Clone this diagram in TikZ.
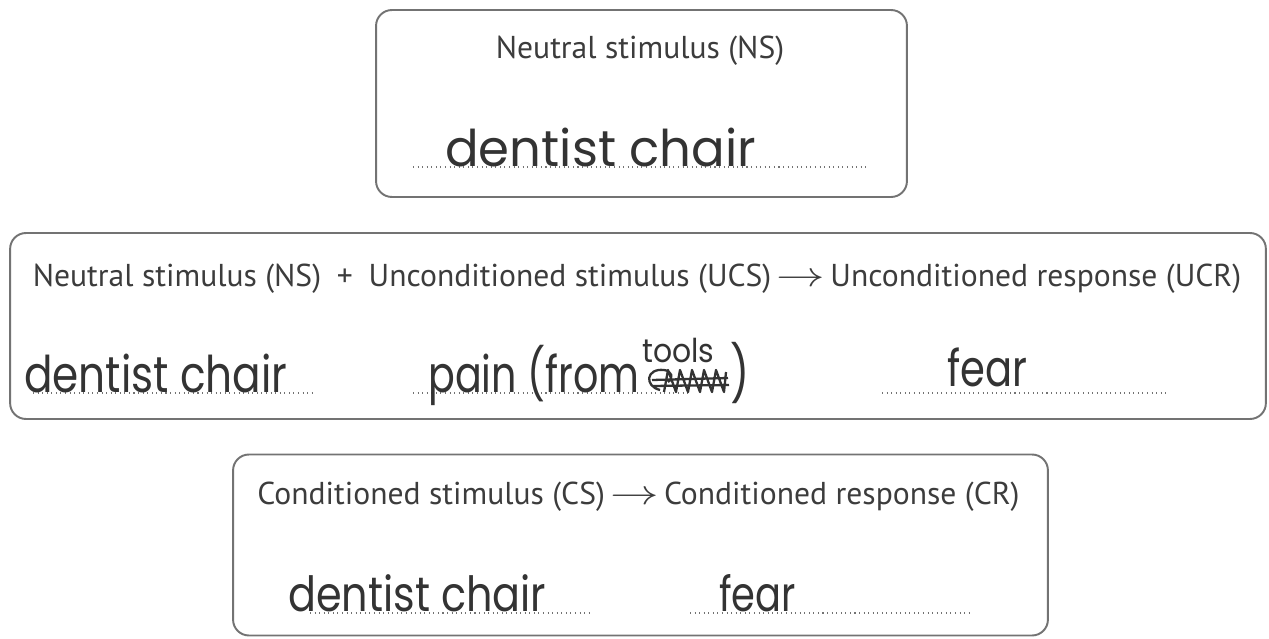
\documentclass[tikz,border=0pt]{standalone}
\usepackage{graphicx}
\usepackage{fontspec}
\setmainfont{PT Sans}
\newfontfamily\hand{Poppins}
\newcommand{\handtxt}[3]{\scalebox{#1}[#2]{#3}}
\newcommand{\bigarrow}{\,\scalebox{1.6}[1.15]{$\rightarrow$}\,}
\definecolor{ink}{HTML}{333333}
\definecolor{print}{HTML}{3C3C3C}
\begin{document}
\begin{tikzpicture}[x=0.02cm,y=-0.02cm,
  box/.style={draw=black!55, line width=1.1pt, rounded corners=9pt, inner sep=0pt},
  title/.style={text=print, font=\fontsize{18}{21}\selectfont, inner sep=0pt, anchor=base},
  hw/.style={text=ink, font=\hand\fontsize{24}{26}\selectfont, inner sep=0pt, anchor=base west},
  dotline/.style={draw=black!55, line width=0.6pt, dotted}]
\useasboundingbox (0,0) rectangle (1269,639);
% boxes
\node[box, minimum width=10.62cm, minimum height=3.74cm] (b1) at (641.5,103.5) {};
\node[box, minimum width=25.12cm, minimum height=3.72cm] (b2) at (638,326) {};
\node[box, minimum width=16.3cm, minimum height=3.62cm] (b3) at (640.5,545) {};
% titles
\node[title] (t1) at (640,58) {Neutral stimulus (NS)};
\node[title] (t2) at (637,286) {Neutral stimulus (NS)\enspace+\enspace Unconditioned stimulus (UCS)\bigarrow Unconditioned response (UCR)};
\node[title] (t3) at (638.5,504) {Conditioned stimulus (CS)\bigarrow Conditioned response (CR)};
% dotted answer lines
\draw[dotline] (413,167) -- (868,167);
\draw[dotline] (33,393) -- (315,393);
\draw[dotline] (413,393) -- (691,393);
\draw[dotline] (882,393) -- (1166,393);
\draw[dotline] (310,613) -- (590,613);
\draw[dotline] (690,613) -- (970,613);
% handwriting
\node[hw] (h1) at (445,166) {\handtxt{1.18}{1.2}{dentist chair}};
\node[hw] (h2) at (24,392) {\handtxt{1.0}{1.2}{dentist chair}};
\node[hw] (h3) at (428,392) {\handtxt{0.94}{1.2}{pain (from}};
\node[hw, font=\hand\fontsize{17}{18}\selectfont] (h4) at (642,362) {\handtxt{1.0}{1.1}{tools}};
\node[hw] (h5) at (730,393) {\handtxt{1.0}{1.3}{)}};
\node[hw] (h6) at (947,386) {\handtxt{0.95}{1.2}{fear}};
\node[hw] (h7) at (288,611) {\handtxt{0.98}{1.15}{dentist chair}};
\node[hw] (h8) at (719,611) {\handtxt{0.91}{1.15}{fear}};
% scribbled-out word
\draw[ink, line width=1.3pt, line join=round]
  (660,390) .. controls (644,386) and (646,368) .. (664,370)
  .. controls (672,371) and (674,378) .. (668,382)
  (652,380) -- (728,378) (652,386) -- (729,385)
  (664,392) -- (668,370) -- (676,392) -- (680,370) -- (688,392) -- (692,370)
  -- (700,392) -- (704,370) -- (712,392) -- (716,370) -- (724,392) -- (726,372);
\end{tikzpicture}
\end{document}
